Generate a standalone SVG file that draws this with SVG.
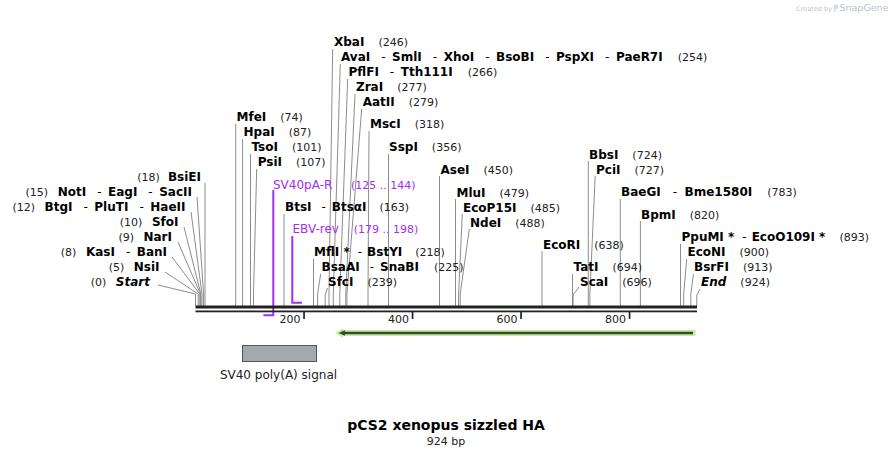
<svg xmlns="http://www.w3.org/2000/svg" width="894" height="456" viewBox="0 0 894 456">
<style>
text { font-family: "DejaVu Sans", Verdana, sans-serif; }
.b { font-weight: bold; font-size: 12px; fill: #000; }
.nm { font-weight: normal; font-size: 11px; fill: #222; }
.d { font-weight: normal; font-size: 12px; }
.it { font-style: italic; }
.ld { fill: none; stroke: #8c8c8c; stroke-width: 1; }
.pr { fill: #a22ff0; font-size: 12px; }
.prn { fill: #a22ff0; font-size: 11px; }
.pl { stroke: #a22ff0; stroke-width: 2; fill: none; }
.tk { font-size: 11px; fill: #222; }
</style>
<rect width="894" height="456" fill="#fff"/>

<g id="watermark">
<text x="832" y="10.5" text-anchor="end" style="font-size:6.5px;fill:#c4c4c4">Created by</text>
<path d="M834 4.5 h2.3 a2.3 2.3 0 0 1 0 4.6 h-1 v3.2 h-1.3 z" fill="#bfe0f5"/>
<text x="839.5" y="11" style="font-size:9.5px;fill:#b9c3cb">SnapGene</text>
</g>

<g id="connectors">
<path class="ld" d="M205 183 V306"/>
<path class="ld" d="M197 197 L203.6 294 V306"/>
<path class="ld" d="M191 212 L202 294 V306"/>
<path class="ld" d="M184 227 L200.9 294 V306"/>
<path class="ld" d="M178 242 L200.4 294 V306"/>
<path class="ld" d="M172 257 L199.8 294 V306"/>
<path class="ld" d="M165 272 L198.2 294 V306"/>
<path class="ld" d="M158 285 L195.5 294 V306"/>
<path class="ld" d="M235.7 124 V306"/>
<path class="ld" d="M242.6 139 V306"/>
<path class="ld" d="M250.5 154 V306"/>
<path class="ld" d="M256.7 169 L253.5 294 V306"/>
<path class="ld" d="M332.7 49 L329 294 V306"/>
<path class="ld" d="M340.3 64 L333.3 294 V306"/>
<path class="ld" d="M347.7 79 L339.8 294 V306"/>
<path class="ld" d="M355 94 L345.8 294 V306"/>
<path class="ld" d="M361.7 109 L346.9 294 V306"/>
<path class="ld" d="M369 131 L368 294 V306"/>
<path class="ld" d="M388.5 154 V306"/>
<path class="ld" d="M439.5 176 V306"/>
<path class="ld" d="M284 214 V306"/>
<path class="ld" d="M313.5 259 V306"/>
<path class="ld" d="M320.7 274 L317.6 294 V306"/>
<path class="ld" d="M327.5 288 L325.2 295 V306"/>
<path class="ld" d="M455.5 199 V306"/>
<path class="ld" d="M462.3 214 L458.6 294 V306"/>
<path class="ld" d="M469.3 229 L460.2 294 V306"/>
<path class="ld" d="M542 251 V306"/>
<path class="ld" d="M572.5 274 V306"/>
<path class="ld" d="M579 287 L573.1 295 V306"/>
<path class="ld" d="M588.3 161 V306"/>
<path class="ld" d="M595.2 176 L589.9 294 V306"/>
<path class="ld" d="M620.3 199 V306"/>
<path class="ld" d="M640.4 221 V306"/>
<path class="ld" d="M680.5 244 V306"/>
<path class="ld" d="M686.7 259 L683.7 294 V306"/>
<path class="ld" d="M693.5 274 L690.8 294 V306"/>
<path class="ld" d="M700 289 L696.8 295 V306"/>
</g>

<g id="primers">
<g id="SV40pA-R">
<path class="pl" d="M273.3 190 V315.3 H263.3"/>
<text class="pr" x="273" y="188.5">SV40pA-R</text>
<text class="prn" x="351" y="188.5">(125 .. 144)</text>
</g>
<g id="EBV-rev">
<path class="pl" d="M292.3 236 V302.7 H302"/>
<text class="pr" x="292.5" y="233">EBV-rev</text>
<text class="prn" x="353.7" y="233">(179 .. 198)</text>
</g>
</g>

<g id="backbone">
<rect x="195.5" y="305.5" width="501.5" height="3" fill="#222"/>
<rect x="195.5" y="310.5" width="501.5" height="1.8" fill="#222"/>
<rect x="303.2" y="312" width="1.7" height="7" fill="#222"/>
<rect x="411.7" y="312" width="1.7" height="7" fill="#222"/>
<rect x="520.2" y="312" width="1.7" height="7" fill="#222"/>
<rect x="628.7" y="312" width="1.7" height="7" fill="#222"/>
<text class="tk" x="300.5" y="323" text-anchor="end">200</text>
<text class="tk" x="409" y="323" text-anchor="end">400</text>
<text class="tk" x="517.5" y="323" text-anchor="end">600</text>
<text class="tk" x="626" y="323" text-anchor="end">800</text>
</g>

<g id="left-labels">
<g id="BsiEI"><text class="b" x="201" y="181" text-anchor="end"><tspan class="nm">(18)</tspan><tspan dx="8">BsiEI</tspan></text></g>
<g id="NotI"><text class="b" x="192" y="196" text-anchor="end"><tspan class="nm">(15)</tspan><tspan dx="9.5">NotI</tspan><tspan class="d" dx="11">-</tspan><tspan dx="6.5">EagI</tspan><tspan class="d" dx="11">-</tspan><tspan dx="6.5">SacII</tspan></text></g>
<g id="BtgI"><text class="b" x="185.5" y="211" text-anchor="end"><tspan class="nm">(12)</tspan><tspan dx="9.5">BtgI</tspan><tspan class="d" dx="11">-</tspan><tspan dx="6.5">PluTI</tspan><tspan class="d" dx="11">-</tspan><tspan dx="6.5">HaeII</tspan></text></g>
<g id="SfoI"><text class="b" x="178.5" y="226" text-anchor="end"><tspan class="nm">(10)</tspan><tspan dx="9.5">SfoI</tspan></text></g>
<g id="NarI"><text class="b" x="172" y="241" text-anchor="end"><tspan class="nm">(9)</tspan><tspan dx="9.5">NarI</tspan></text></g>
<g id="KasI"><text class="b" x="167" y="256" text-anchor="end"><tspan class="nm">(8)</tspan><tspan dx="9.5">KasI</tspan><tspan class="d" dx="11">-</tspan><tspan dx="6.5">BanI</tspan></text></g>
<g id="NsiI"><text class="b" x="159.5" y="271" text-anchor="end"><tspan class="nm">(5)</tspan><tspan dx="9.5">NsiI</tspan></text></g>
<g id="Start"><text class="b" x="150" y="286" text-anchor="end"><tspan class="nm">(0)</tspan><tspan class="it" dx="9.5">Start</tspan></text></g>
</g>

<g id="top-labels">
<g id="XbaI"><text class="b" x="334" y="46">XbaI<tspan class="nm" dx="14">(246)</tspan></text></g>
<g id="AvaI"><text class="b" x="341" y="61">AvaI<tspan class="d" dx="11">-</tspan><tspan dx="6.5">SmlI</tspan><tspan class="d" dx="11">-</tspan><tspan dx="6.5">XhoI</tspan><tspan class="d" dx="11">-</tspan><tspan dx="6.5">BsoBI</tspan><tspan class="d" dx="11">-</tspan><tspan dx="6.5">PspXI</tspan><tspan class="d" dx="11">-</tspan><tspan dx="6.5">PaeR7I</tspan><tspan class="nm" dx="15">(254)</tspan></text></g>
<g id="PflFI"><text class="b" x="348.5" y="76">PflFI<tspan class="d" dx="11">-</tspan><tspan dx="6.5">Tth111I</tspan><tspan class="nm" dx="15">(266)</tspan></text></g>
<g id="ZraI"><text class="b" x="356" y="91">ZraI<tspan class="nm" dx="14">(277)</tspan></text></g>
<g id="AatII"><text class="b" x="362.7" y="106">AatII<tspan class="nm" dx="14">(279)</tspan></text></g>
<g id="MscI"><text class="b" x="370" y="128">MscI<tspan class="nm" dx="14">(318)</tspan></text></g>
<g id="SspI"><text class="b" x="389" y="151">SspI<tspan class="nm" dx="14">(356)</tspan></text></g>
<g id="AseI"><text class="b" x="440.5" y="173.5">AseI<tspan class="nm" dx="14">(450)</tspan></text></g>
<g id="MfeI"><text class="b" x="236.5" y="121">MfeI<tspan class="nm" dx="14">(74)</tspan></text></g>
<g id="HpaI"><text class="b" x="243.5" y="136">HpaI<tspan class="nm" dx="14">(87)</tspan></text></g>
<g id="TsoI"><text class="b" x="251.5" y="151">TsoI<tspan class="nm" dx="14">(101)</tspan></text></g>
<g id="PsiI"><text class="b" x="257.7" y="166">PsiI<tspan class="nm" dx="14">(107)</tspan></text></g>
<g id="BtsI"><text class="b" x="285" y="211">BtsI<tspan class="d" dx="10">-</tspan><tspan dx="6">BtsαI</tspan><tspan class="nm" dx="13">(163)</tspan></text></g>
<g id="MflI"><text class="b" x="314" y="256">MflI *<tspan class="d" dx="8">-</tspan><tspan dx="5">BstYI</tspan><tspan class="nm" dx="13">(218)</tspan></text></g>
<g id="BsaAI"><text class="b" x="321.5" y="271">BsaAI<tspan class="d" dx="10">-</tspan><tspan dx="6">SnaBI</tspan><tspan class="nm" dx="15">(225)</tspan></text></g>
<g id="SfcI"><text class="b" x="328" y="286">SfcI<tspan class="nm" dx="14">(239)</tspan></text></g>
</g>

<g id="right-labels">
<g id="MluI"><text class="b" x="456.5" y="196.5">MluI<tspan class="nm" dx="14">(479)</tspan></text></g>
<g id="EcoP15I"><text class="b" x="463" y="211.5">EcoP15I<tspan class="nm" dx="14">(485)</tspan></text></g>
<g id="NdeI"><text class="b" x="470" y="226.5">NdeI<tspan class="nm" dx="14">(488)</tspan></text></g>
<g id="EcoRI"><text class="b" x="543" y="248.5">EcoRI<tspan class="nm" dx="14">(638)</tspan></text></g>
<g id="TatI"><text class="b" x="573.5" y="271">TatI<tspan class="nm" dx="14">(694)</tspan></text></g>
<g id="ScaI"><text class="b" x="580" y="286">ScaI<tspan class="nm" dx="14">(696)</tspan></text></g>
<g id="BbsI"><text class="b" x="589" y="158.5">BbsI<tspan class="nm" dx="14">(724)</tspan></text></g>
<g id="PciI"><text class="b" x="596" y="173.5">PciI<tspan class="nm" dx="14">(727)</tspan></text></g>
<g id="BaeGI"><text class="b" x="621" y="196">BaeGI<tspan class="d" dx="12">-</tspan><tspan dx="7.5">Bme1580I</tspan><tspan class="nm" dx="15">(783)</tspan></text></g>
<g id="BpmI"><text class="b" x="641" y="218.5">BpmI<tspan class="nm" dx="14">(820)</tspan></text></g>
<g id="PpuMI"><text class="b" x="681.5" y="241">PpuMI *<tspan class="d" dx="8">-</tspan><tspan dx="5">EcoO109I *</tspan><tspan class="nm" dx="14">(893)</tspan></text></g>
<g id="EcoNI"><text class="b" x="687.5" y="256">EcoNI<tspan class="nm" dx="14">(900)</tspan></text></g>
<g id="BsrFI"><text class="b" x="694" y="271">BsrFI<tspan class="nm" dx="14">(913)</tspan></text></g>
<g id="End"><text class="b" x="701" y="286"><tspan class="it">End</tspan><tspan class="nm" dx="14">(924)</tspan></text></g>
</g>

<g id="features">
<g id="orf-arrow">
<path d="M335 333 L343 328.3 V330 H695.5 V336 H343 V337.7 Z" fill="#c2f09c"/>
<path d="M338.5 333 L345 330.3 V331.8 H693 V334.3 H345 V335.7 Z" fill="#3d4636"/>
</g>
<g id="SV40-polyA">
<rect x="242.5" y="345.5" width="74" height="16" fill="#a4a9b0" stroke="#555" stroke-width="1"/>
<text x="278.5" y="379" text-anchor="middle" style="font-size:12px;fill:#222">SV40 poly(A) signal</text>
</g>
</g>

<g id="title">
<text x="446" y="430" text-anchor="middle" style="font-size:14px;font-weight:bold;fill:#000">pCS2 xenopus sizzled HA</text>
<text x="446" y="444.5" text-anchor="middle" style="font-size:11px;fill:#222">924 bp</text>
</g>
</svg>
